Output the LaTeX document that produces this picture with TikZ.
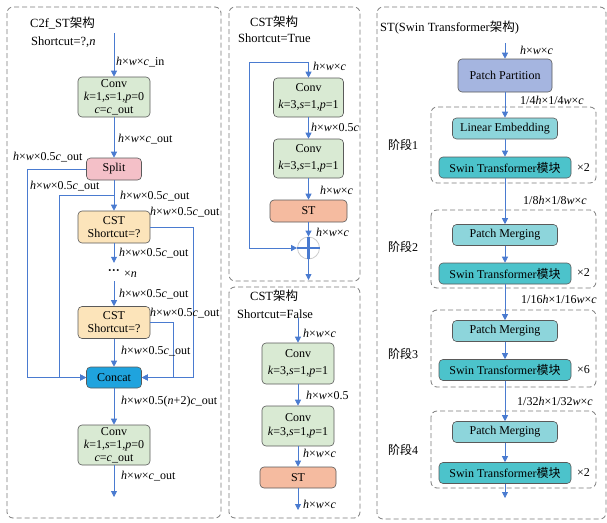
\documentclass[tikz,border=0pt]{standalone}
\usepackage{fontspec}
\setmainfont{Liberation Serif}
\newfontfamily\cjk{Noto Sans CJK SC}
\usetikzlibrary{arrows.meta,calc}
\definecolor{lnblue}{HTML}{4A7BD0}
\definecolor{convg}{HTML}{D9EAD3}
\definecolor{splitp}{HTML}{F4C0C8}
\definecolor{csty}{HTML}{FCE4BA}
\definecolor{concatb}{HTML}{1FA3DE}
\definecolor{stor}{HTML}{F5BBA0}
\definecolor{ppb}{HTML}{A5B5E0}
\definecolor{leb}{HTML}{8DD5DB}
\definecolor{swb}{HTML}{4CC3CB}
\definecolor{bord}{HTML}{5A5A5A}
\newcommand{\iv}[1]{\textit{#1}}
\newcommand{\hw}{\iv{h}×\iv{w}×}
\tikzset{
  panel/.style={draw=bord!80, dashed, dash pattern=on 5pt off 3pt, rounded corners=6pt, line width=0.8pt},
  stagebox/.style={draw=bord!80, dashed, dash pattern=on 5pt off 3pt, rounded corners=6pt, line width=0.8pt},
  blk/.style={draw=bord, line width=0.6pt, rounded corners=4pt, align=center, inner sep=1pt, font=\fontsize{12}{13}\selectfont},
  convbox/.style={blk, fill=convg, minimum width=72pt, minimum height=40pt},
  splitbox/.style={blk, fill=splitp, minimum width=55pt, minimum height=22pt},
  cstbox/.style={blk, fill=csty, minimum width=72pt, minimum height=32pt},
  concatbox/.style={blk, fill=concatb, minimum width=55pt, minimum height=21pt},
  stbox/.style={blk, fill=stor, minimum width=77pt, minimum height=22pt},
  ppbox/.style={blk, fill=ppb, minimum width=94pt, minimum height=33pt},
  lebox/.style={blk, fill=leb, minimum width=105pt, minimum height=21pt},
  swbox/.style={blk, fill=swb, minimum width=132pt, minimum height=21pt},
  lbl/.style={anchor=west, inner sep=0pt, font=\fontsize{12}{13}\selectfont},
  ttl/.style={anchor=west, inner sep=0pt, font=\fontsize{12.5}{14}\selectfont},
  arr/.style={draw=lnblue, line width=0.8pt, -{Triangle[length=6pt,width=6pt]}},
  ln/.style={draw=lnblue, line width=0.8pt},
}
\begin{document}
\begin{tikzpicture}[x=1pt,y=-1pt]
\useasboundingbox (0,0) rectangle (607,522);
% panels
\draw[panel] (7,7) rectangle (221,518);
\draw[panel] (229,7) rectangle (360,281);
\draw[panel] (229,287) rectangle (360,518);
\draw[panel] (377,7) rectangle (606,519);

% ---------------- Panel 1: C2f_ST ----------------
\node[ttl] (t1) at (30,23) {C2f\_ST{\cjk 架构}};
\node[ttl] (s1) at (31,42) {Shortcut=?,\iv{n}};
\coordinate (in1) at (114,33);
\node[convbox] (conv1) at (114,97) {Conv\\\iv{k}=1,\iv{s}=1,\iv{p}=0\\\iv{c}=\iv{c}\_out};
\node[splitbox] (split) at (114,169) {Split};
\node[cstbox] (cst1) at (114,227) {CST\\Shortcut=?};
\node[inner sep=0pt, minimum height=18pt, font=\fontsize{12}{13}\selectfont] (dots) at (114,272) {\textbf{···}};
\node[lbl] (xn) at (124,274) {×\iv{n}};
\node[cstbox] (cst2) at (114,322.5) {CST\\Shortcut=?};
\node[concatbox] (concat) at (114,377.5) {Concat};
\node[convbox] (conv2) at (114,445) {Conv\\\iv{k}=1,\iv{s}=1,\iv{p}=0\\\iv{c}=\iv{c}\_out};
\coordinate (out1) at (114,497);
\coordinate (b2) at (114,195);
\coordinate (xl1) at (27,0);
\coordinate (xl2) at (59,0);
\coordinate (xr1) at (173,0);
\coordinate (xr2) at (193,0);

\draw[arr] (in1) -- (conv1.north);
\draw[arr] (conv1.south) -- (split.north);
\draw[arr] (split.south) -- (cst1.north);
\draw[arr] (cst1.south) -- (dots.north);
\draw[arr] (dots.south) -- (cst2.north);
\draw[arr] (cst2.south) -- (concat.north);
\draw[arr] (concat.south) -- (conv2.north);
\draw[arr] (conv2.south) -- (out1);
\draw[arr] (split.west) -| (xl1 |- concat.west) -- (concat.west);
\draw[arr] (b2) -| (xl2 |- concat.west) -- (concat.west);
\draw[arr] (cst1.east) -| (xr2 |- concat.east) -- (concat.east);
\draw[arr] (cst2.east) -| (xr1 |- concat.east) -- (concat.east);

\node[lbl] at (116,62) {\hw\iv{c}\_in};
\node[lbl] at (118,139) {\hw\iv{c}\_out};
\node[lbl] at (13,157) {\hw0.5\iv{c}\_out};
\node[lbl] at (30,186) {\hw0.5\iv{c}\_out};
\node[lbl] at (120,196) {\hw0.5\iv{c}\_out};
\node[lbl] at (150,212) {\hw0.5\iv{c}\_out};
\node[lbl] at (119,253) {\hw0.5\iv{c}\_out};
\node[lbl] at (119,294) {\hw0.5\iv{c}\_out};
\node[lbl] at (150,313) {\hw0.5\iv{c}\_out};
\node[lbl] at (121,351) {\hw0.5\iv{c}\_out};
\node[lbl] at (121,402) {\hw0.5(\iv{n}+2)\iv{c}\_out};
\node[lbl] at (121,476) {\hw\iv{c}\_out};

% ---------------- Panel 2: CST True ----------------
\node[ttl] (t2) at (250,22) {CST{\cjk 架构}};
\node[ttl] (s2) at (238,38) {Shortcut=True};
\coordinate (in2) at (308.5,62);
\coordinate (xs2) at (249,0);
\node[convbox, minimum width=70pt, minimum height=39pt] (c2a) at (308.5,97.5) {Conv\\[4pt]\iv{k}=3,\iv{s}=1,\iv{p}=1};
\node[convbox, minimum width=70pt, minimum height=39pt] (c2b) at (308.5,158.5) {Conv\\[4pt]\iv{k}=3,\iv{s}=1,\iv{p}=1};
\node[stbox] (st2) at (308.5,211) {ST};
\node[circle, draw=gray!40, line width=0.8pt, minimum size=22pt, inner sep=0pt] (plus) at (308.5,248) {};
\draw[lnblue, line width=2.6pt] (plus.north) -- (plus.south);
\draw[lnblue, line width=2.6pt] (plus.west) -- (plus.east);
\coordinate (out2) at (308.5,280);
\draw[arr] (in2) -- (c2a.north);
\draw[arr] (c2a.south) -- (c2b.north);
\draw[arr] (c2b.south) -- (st2.north);
\draw[arr] (st2.south) -- (plus.north);
\draw[arr] (plus.south) -- (out2);
\draw[arr] (in2) -| (xs2 |- plus.west) -- (plus.west);
\node[lbl] at (313,66) {\hw\iv{c}};
\node[lbl] at (311,127) {\hw0.5\iv{c}};
\node[lbl] at (320,190) {\hw\iv{c}};
\node[lbl] at (316,232) {\hw\iv{c}};

% ---------------- Panel 3: CST False ----------------
\node[ttl] (t3) at (250,296) {CST{\cjk 架构}};
\node[ttl] (s3) at (237,314) {Shortcut=False};
\coordinate (in3) at (298,318);
\node[convbox, minimum height=41pt] (c3a) at (298,363.5) {Conv\\[4pt]\iv{k}=3,\iv{s}=1,\iv{p}=1};
\node[convbox] (c3b) at (298,426) {Conv\\[1pt]\iv{k}=3,\iv{s}=1,\iv{p}=1};
\node[stbox, minimum width=76pt, minimum height=21pt] (st3) at (298,477.5) {ST};
\coordinate (out3) at (298,510);
\draw[arr] (in3) -- (c3a.north);
\draw[arr] (c3a.south) -- (c3b.north);
\draw[arr] (c3b.south) -- (st3.north);
\draw[arr] (st3.south) -- (out3);
\node[lbl] at (303,333) {\hw\iv{c}};
\node[lbl] at (306,395) {\hw0.5};
\node[lbl] at (303,453) {\hw\iv{c}};
\node[lbl] at (303,504) {\hw\iv{c}};

% ---------------- Panel 4: ST ----------------
\node[ttl] (t4) at (380,28) {ST(Swin Transformer{\cjk 架构})};
\coordinate (in4) at (505,43);
\node[ppbox] (pp) at (505,75.5) {Patch Partition};
\draw[stagebox] (431,107) rectangle (596,183);
\draw[stagebox] (431,210) rectangle (596,288);
\draw[stagebox] (431,310) rectangle (596,387);
\draw[stagebox] (431,411) rectangle (596,488);
\node[lebox] (le) at (505,128.5) {Linear Embedding};
\node[swbox] (sw1) at (505,167.5) {Swin Transformer{\cjk 模块}};
\node[lebox] (pm2) at (505,235) {Patch Merging};
\node[swbox] (sw2) at (505,273.5) {Swin Transformer{\cjk 模块}};
\node[lebox] (pm3) at (505,331) {Patch Merging};
\node[swbox] (sw3) at (505,370) {Swin Transformer{\cjk 模块}};
\node[lebox] (pm4) at (505,432) {Patch Merging};
\node[swbox] (sw4) at (505,473) {Swin Transformer{\cjk 模块}};
\coordinate (out4) at (505,498);
\draw[arr] (in4) -- (pp.north);
\draw[arr] (pp.south) -- (le.north);
\draw[arr] (le.south) -- (sw1.north);
\draw[arr] (sw1.south) -- (pm2.north);
\draw[arr] (pm2.south) -- (sw2.north);
\draw[arr] (sw2.south) -- (pm3.north);
\draw[arr] (pm3.south) -- (sw3.north);
\draw[arr] (sw3.south) -- (pm4.north);
\draw[arr] (pm4.south) -- (sw4.north);
\draw[arr] (sw4.south) -- (out4);
\node[lbl] at (520,50) {\hw\iv{c}};
\node[lbl] at (520,100) {1/4\iv{h}×1/4\iv{w}×\iv{c}};
\node[lbl] at (523,200) {1/8\iv{h}×1/8\iv{w}×\iv{c}};
\node[lbl] at (521,299) {1/16\iv{h}×1/16\iv{w}×\iv{c}};
\node[lbl] at (517,401) {1/32\iv{h}×1/32\iv{w}×\iv{c}};
\node[lbl] at (388,145) {{\cjk 阶段}1};
\node[lbl] at (388,247) {{\cjk 阶段}2};
\node[lbl] at (388,354) {{\cjk 阶段}3};
\node[lbl] at (388,450) {{\cjk 阶段}4};
\node[lbl] at (577,168) {×2};
\node[lbl] at (577,273) {×2};
\node[lbl] at (577,370) {×6};
\node[lbl] at (577,473) {×2};
\end{tikzpicture}
\end{document}
